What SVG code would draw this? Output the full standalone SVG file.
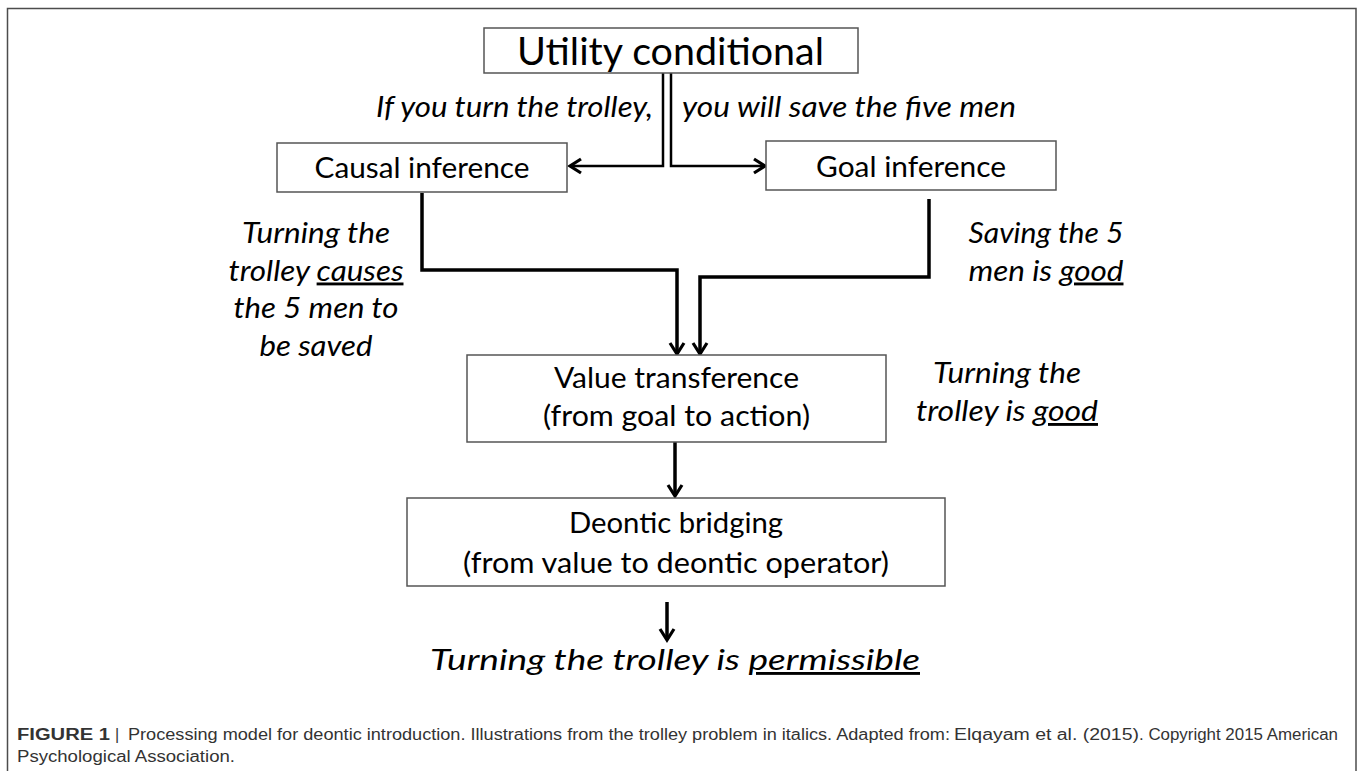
<svg xmlns="http://www.w3.org/2000/svg" width="1358" height="771" viewBox="0 0 1358 771">
<style>
  .box { fill: #fff; stroke: #555; stroke-width: 1.5; }
  .frame { stroke: #4d4d4d; stroke-width: 1.5; fill: none; }
  .t { font-family: Lato, "Open Sans", "Liberation Sans", sans-serif; fill: #000; }
  .it { font-family: Lato, "Open Sans", "Liberation Sans", sans-serif; font-style: italic; fill: #000; font-size: 28.7px; }
  .conn { fill: none; stroke: #000; stroke-width: 3.5; stroke-linejoin: miter; }
  .thin { stroke-width: 2.5; }
  .cap { font-family: "Liberation Sans", Arial, sans-serif; font-size: 16px; fill: #333; }
  .u { text-decoration: underline; }
</style>
<defs>
  <marker id="arr" markerUnits="userSpaceOnUse" markerWidth="20" markerHeight="20" refX="0" refY="0" viewBox="-16 -10 20 20" orient="auto" overflow="visible">
    <path d="M-11,-7 L0,0 L-11,7" fill="none" stroke="#000" stroke-width="3.2"/>
  </marker>
</defs>

<g id="frame">
  <path class="frame" d="M7.5,771 V8.5 H1356 V771"/>
</g>

<g id="connectors">
  <path class="conn thin" d="M663,73 V166 H570" marker-end="url(#arr)"/>
  <path class="conn thin" d="M671,73 V166 H765" marker-end="url(#arr)"/>
  <path class="conn" d="M422,193 V270 H677 V354" marker-end="url(#arr)"/>
  <path class="conn" d="M929,199 V277 H700 V354" marker-end="url(#arr)"/>
  <path class="conn" d="M675,442 V496" marker-end="url(#arr)"/>
  <path class="conn" d="M667,602 V640" marker-end="url(#arr)"/>
</g>

<g id="utility">
  <rect class="box" x="484" y="28" width="374" height="45"/>
  <text class="t" x="670.5" y="65" font-size="38.5" text-anchor="middle" textLength="307" lengthAdjust="spacingAndGlyphs">Utility conditional</text>
</g>

<g id="conditional-labels">
  <text class="it" x="376" y="117" textLength="277" lengthAdjust="spacingAndGlyphs">If you turn the trolley,</text>
  <text class="it" x="682" y="117" textLength="334" lengthAdjust="spacingAndGlyphs">you will save the five men</text>
</g>

<g id="causal">
  <rect class="box" x="277" y="143" width="290" height="49"/>
  <text class="t" x="422" y="178" font-size="29" text-anchor="middle" textLength="215" lengthAdjust="spacingAndGlyphs">Causal inference</text>
</g>

<g id="goal">
  <rect class="box" x="766" y="141" width="290" height="49"/>
  <text class="t" x="911" y="177" font-size="29" text-anchor="middle" textLength="190" lengthAdjust="spacingAndGlyphs">Goal inference</text>
</g>

<g id="causal-label">
  <text class="it" x="316" y="243" text-anchor="middle" textLength="148" lengthAdjust="spacingAndGlyphs">Turning the</text>
  <text class="it" x="316" y="280.5" text-anchor="middle" textLength="175" lengthAdjust="spacingAndGlyphs">trolley <tspan class="u">causes</tspan></text>
  <text class="it" x="316" y="318" text-anchor="middle" textLength="165" lengthAdjust="spacingAndGlyphs">the 5 men to</text>
  <text class="it" x="316" y="355.5" text-anchor="middle" textLength="113" lengthAdjust="spacingAndGlyphs">be saved</text>
</g>

<g id="goal-label">
  <text class="it" x="1046" y="243" text-anchor="middle" textLength="155" lengthAdjust="spacingAndGlyphs">Saving the 5</text>
  <text class="it" x="1046" y="280.5" text-anchor="middle" textLength="155" lengthAdjust="spacingAndGlyphs">men is <tspan class="u">good</tspan></text>
</g>

<g id="value">
  <rect class="box" x="467" y="355" width="419" height="87"/>
  <text class="t" x="676.5" y="388" font-size="29" text-anchor="middle" textLength="245" lengthAdjust="spacingAndGlyphs">Value transference</text>
  <text class="t" x="676.5" y="426" font-size="29" text-anchor="middle" textLength="267" lengthAdjust="spacingAndGlyphs">(from goal to action)</text>
</g>

<g id="value-label">
  <text class="it" x="1007" y="383" text-anchor="middle" textLength="148" lengthAdjust="spacingAndGlyphs">Turning the</text>
  <text class="it" x="1007" y="421" text-anchor="middle" textLength="182" lengthAdjust="spacingAndGlyphs">trolley is <tspan class="u">good</tspan></text>
</g>

<g id="deontic">
  <rect class="box" x="407" y="498" width="538" height="88"/>
  <text class="t" x="676" y="533" font-size="29" text-anchor="middle" textLength="214" lengthAdjust="spacingAndGlyphs">Deontic bridging</text>
  <text class="t" x="676" y="573" font-size="29" text-anchor="middle" textLength="426" lengthAdjust="spacingAndGlyphs">(from value to deontic operator)</text>
</g>

<g id="conclusion">
  <text class="it" x="430" y="670" font-size="33.7" textLength="490" lengthAdjust="spacingAndGlyphs">Turning the trolley is <tspan class="u">permissible</tspan></text>
</g>

<g id="caption">
  <text class="cap" x="17" y="740" font-weight="bold" textLength="93" lengthAdjust="spacingAndGlyphs" fill="#222">FIGURE 1</text>
  <text class="cap" x="115" y="740">|</text>
  <text class="cap" x="128" y="740" textLength="822" lengthAdjust="spacingAndGlyphs">Processing model for deontic introduction. Illustrations from the trolley problem in italics. Adapted from:</text>
  <text class="cap" x="954" y="740" textLength="185" lengthAdjust="spacingAndGlyphs" fill="#8a8a8a">Elqayam et al. (2015)</text>
  <text class="cap" x="1139" y="740" textLength="199" lengthAdjust="spacingAndGlyphs">. Copyright 2015 American</text>
  <text class="cap" x="17" y="762" textLength="218" lengthAdjust="spacingAndGlyphs">Psychological Association.</text>
</g>
</svg>
